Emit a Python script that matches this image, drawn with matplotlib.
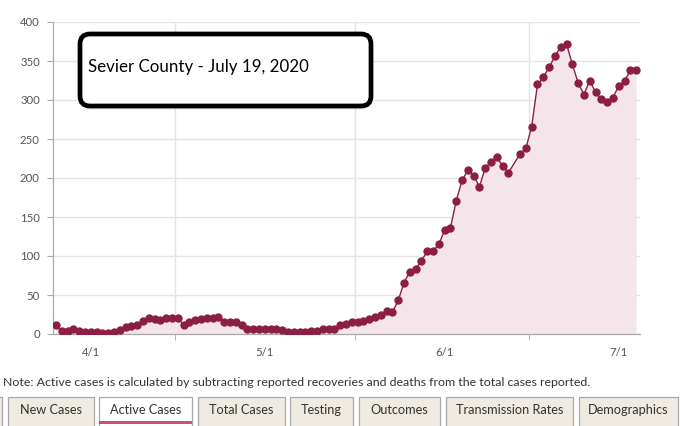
import matplotlib
matplotlib.use("Agg")
import matplotlib.pyplot as plt
from matplotlib.patches import FancyBboxPatch, Rectangle
import numpy as np
import pandas as pd

plt.rcParams["font.family"] = ["Lato", "DejaVu Sans"]

# daily active cases, Sevier County (one missing report on 6/13)
start_date = "2020-03-26"
active_cases = [
    11, 4, 4, 6, 4, 2, 2, 2, 1, 1,
    3, 5, 9, 10, 11, 17, 20, 19, 18, 20,
    21, 20, 12, 15, 18, 19, 20, 21, 22, 16,
    16, 16, 11, 6, 7, 7, 6, 6, 6, 5,
    3, 2, 3, 3, 4, 4, 6, 6, 6, 12,
    13, 16, 15, 17, 19, 22, 24, 30, 28, 43,
    66, 80, 83, 94, 106, 106, 115, 133, 136, 171,
    197, 210, 203, 189, 213, 221, 227, 215, 207, None,
    231, 238, 266, 320, 329, 342, 356, 368, 372, 346,
    322, 307, 325, 310, 301, 298, 303, 318, 324, 338,
    338,
]
month_ticks = ["2020-04-01", "2020-05-01", "2020-06-01", "2020-07-01"]
month_labels = ["4/1", "5/1", "6/1", "7/1"]
grid_dates = ["2020-04-15 12:00", "2020-05-16 12:00", "2020-06-15 12:00"]
y_ticks = [0, 50, 100, 150, 200, 250, 300, 350, 400]
title_text = "Sevier County - July 19, 2020"
note_text = ("Note: Active cases is calculated by subtracting reported recoveries "
             "and deaths from the total cases reported.")
tab_names = ["New Cases", "Active Cases", "Total Cases", "Testing",
             "Outcomes", "Transmission Rates", "Demographics"]
active_tab = "Active Cases"

line_color = "#8c1d45"
fill_color = "#f3e5ea"
grid_color = "#e4e4e4"
axis_color = "#a9a9a9"
text_color = "#555555"

dates = pd.date_range(start_date, periods=len(active_cases), freq="D")
vals = np.array([np.nan if v is None else v for v in active_cases], dtype=float)
ok = ~np.isnan(vals)

W, H = 680, 426
fig = plt.figure(figsize=(W / 100, H / 100), dpi=100)
ax = fig.add_axes([53 / W, 1 - 334 / H, (640 - 53) / W, (334 - 22) / H])

ax.fill_between(dates[ok], vals[ok], color=fill_color, lw=0, zorder=1)
ax.plot(dates[ok], vals[ok], "-o", color=line_color, lw=1, ms=5, zorder=3)

ax.set_ylim(0, 400)
ax.set_xlim(pd.Timestamp("2020-03-25 12:00"), pd.Timestamp("2020-07-04 16:00"))
ax.set_yticks(y_ticks)
ax.yaxis.grid(True, color=grid_color, lw=1)

ax.set_xticks(pd.to_datetime(month_ticks))
ax.set_xticklabels(month_labels)
ax.set_xticks(pd.to_datetime(grid_dates), minor=True)
ax.xaxis.grid(True, which="minor", color=grid_color, lw=1)
ax.set_axisbelow(True)

ax.tick_params(axis="x", which="major", length=0, pad=9, labelsize=8.2, labelcolor=text_color)
ax.tick_params(axis="x", which="minor", length=4, color=axis_color)
ax.tick_params(axis="y", length=4.5, width=0.8, color=axis_color, pad=5, labelsize=8.2,
               labelcolor=text_color)
for side in ["top", "right"]:
    ax.spines[side].set_visible(False)
for side in ["left", "bottom"]:
    ax.spines[side].set_color(axis_color)
    ax.spines[side].set_linewidth(0.9)

# overlay in pixel units for the label box, the note and the tab bar
ov = fig.add_axes([0, 0, 1, 1], zorder=5)
ov.set_xlim(0, W)
ov.set_ylim(H, 0)
ov.axis("off")
ov.patch.set_alpha(0)

for k, a in enumerate([0.10, 0.07, 0.05]):
    ov.add_patch(FancyBboxPatch((80 + k, 36 + k), 291, 72,
                                boxstyle="round,pad=0,rounding_size=10",
                                fc="black", ec="none", alpha=a))
ov.add_patch(FancyBboxPatch((80, 34), 291, 72, boxstyle="round,pad=0,rounding_size=10",
                            fc="white", ec="black", lw=3.4))
ov.text(88, 67, title_text, fontsize=12.2, color="black", va="center", ha="left")

ov.text(3, 382, note_text, fontsize=8.9, color="#333333", va="center", ha="left")

tab_edges = [(8, 94), (99, 192), (198, 285), (290, 353), (359, 440), (446, 573), (579, 678)]
ov.add_patch(Rectangle((-10, 397), 12, 40, fc="#efebe2", ec="#a8a8a8", lw=0.9))
for name, (x0, x1) in zip(tab_names, tab_edges):
    sel = name == active_tab
    ov.add_patch(Rectangle((x0, 397), x1 - x0, 40, fc="white" if sel else "#efebe2",
                           ec="#a8a8a8", lw=0.9))
    if sel:
        ov.add_patch(Rectangle((x0, 421), x1 - x0, 2.5, fc="#c6527b", ec="none"))
    ov.text((x0 + x1) / 2, 410, name, fontsize=9.2, color="#333333", ha="center", va="center")

fig.savefig("out.png", dpi=100)
